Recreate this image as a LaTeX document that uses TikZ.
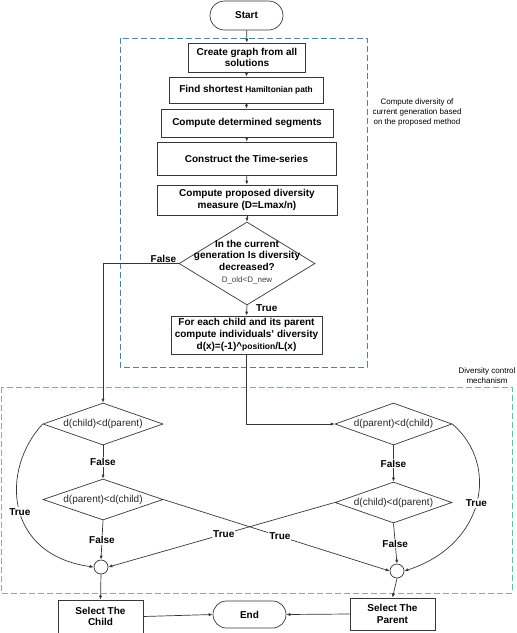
\documentclass[tikz,border=0pt]{standalone}
\usepackage{fontspec}
\setmainfont{Liberation Sans}
\usetikzlibrary{arrows.meta,shapes.geometric,shapes.misc}
\definecolor{ln}{RGB}{55,55,55}
\definecolor{bluedash}{RGB}{80,130,160}
\definecolor{greendash}{RGB}{100,190,160}
\begin{document}
\begin{tikzpicture}[x=1pt,y=-1pt,
 box/.style={draw=ln, line width=0.7pt, fill=white, inner sep=0pt, align=center, font=\fontsize{10}{11.7}\selectfont\bfseries},
 term/.style={rounded rectangle, draw=ln, line width=0.7pt, fill=white, inner sep=0pt, font=\fontsize{10}{12}\selectfont\bfseries},
 dia/.style={diamond, draw=ln, line width=0.7pt, inner sep=0pt},
 dtext/.style={font=\fontsize{10}{12}\selectfont, text=black!85},
 lab/.style={font=\fontsize{10}{12}\selectfont\bfseries, fill=white, inner sep=1pt},
 arr/.style={draw=ln, line width=0.7pt, -{Latex[length=4pt,width=3.2pt]}},
 cir/.style={circle, draw=ln, line width=0.7pt, minimum size=14pt, inner sep=0pt},
 note/.style={font=\fontsize{8}{10}\selectfont, align=center}
]
\useasboundingbox (0,0) rectangle (517,633);

% dashed frames
\draw[bluedash, line width=0.7pt, dash pattern=on 6pt off 3pt] (120,38) rectangle (367,367);
\draw[greendash, line width=0.7pt, dash pattern=on 6pt off 3pt] (1,387) rectangle (512,593);
\node[note] (n1) at (417,112) {Compute diversity of\\current generation based\\on the proposed method};
\node[note] (n2) at (487,375.5) {Diversity control\\mechanism};

% top chain
\node[term, minimum width=73pt, minimum height=29pt] (start) at (246.5,15.5) {Start};
\node[box, minimum width=117pt, minimum height=29pt] (b1) at (247,57.5) {Create graph from all\\solutions};
\node[box, minimum width=154pt, minimum height=26pt] (b2) at (246,90) {Find shortest {\fontsize{8.3}{10}\selectfont Hamiltonian path}};
\node[box, minimum width=172pt, minimum height=28pt] (b3) at (247,123) {Compute determined segments};
\node[box, minimum width=179pt, minimum height=33pt] (b4) at (246.5,158.5) {Construct the Time-series};
\node[box, minimum width=180pt, minimum height=30pt] (b5) at (247,200) {Compute proposed diversity\\measure (D=Lmax/n)};
\node[dia, minimum width=136pt, minimum height=83pt] (d0) at (247,263.5) {};
\node[align=center, font=\fontsize{10}{11.8}\selectfont\bfseries] (d0t) at (247,262) {In the current\\generation Is diversity\\decreased?\\{\mdseries\fontsize{8}{10}\selectfont\color{black!75}D\_old<D\_new}};
\node[box, minimum width=151pt, minimum height=38pt] (b6) at (246.5,335) {For each child and its parent\\compute individuals' diversity\\d(x)=(-1)\textasciicircum{\fontsize{8.5}{10}\selectfont position}/L(x)};

% lower part
\node[dia, minimum width=120pt, minimum height=42pt] (L1) at (103,424) {};
\node[dtext] (L1t) at (L1) {d(child)<d(parent)};
\node[dia, minimum width=120pt, minimum height=41pt] (L2) at (103,499.5) {};
\node[dtext] (L2t) at (L2) {d(parent)<d(child)};
\node[dia, minimum width=117pt, minimum height=42pt] (R1) at (393.5,424) {};
\node[dtext] (R1t) at (R1) {d(parent)<d(child)};
\node[dia, minimum width=117pt, minimum height=41pt] (R2) at (393.5,502.5) {};
\node[dtext] (R2t) at (R2) {d(child)<d(parent)};
\node[cir] (cL) at (101,567) {};
\node[cir] (cR) at (397,571) {};
\node[box, minimum width=85pt, minimum height=33pt] (sc) at (100.5,616.5) {Select The\\Child};
\node[box, minimum width=85pt, minimum height=32pt] (sp) at (392.5,614) {Select The\\Parent};
\node[term, minimum width=73pt, minimum height=27pt] (end) at (249.5,614.5) {End};

% connectors
\draw[arr] (start) -- (b1);
\draw[arr] (b1) -- (b2);
\draw[arr] (b2) -- (b3);
\draw[arr] (b3) -- (b4);
\draw[arr] (b4) -- (b5);
\draw[arr] (b5) -- (d0);
\draw[arr] (d0.south) -- node[pos=0.25, anchor=west, xshift=9pt, font=\fontsize{10}{12}\selectfont\bfseries, inner sep=0pt] {True} (b6.north);
\draw[arr] (d0.west) -- node[pos=0.2, above, font=\fontsize{10}{12}\selectfont\bfseries, inner sep=1pt] {False} (L1.north |- d0.west) -- (L1.north);
\draw[arr] (b6.south) |- (R1.west);

\draw[arr] (L1.south) -- node[lab] {False} (L2.north);
\draw[arr] (L2.south) -- node[lab] {False} (cL.north);
\draw[arr] (R1.south) -- node[lab] {False} (R2.north);
\draw[arr] (R2.south) -- node[lab] {False} (cR.north);

\draw[arr] (L1.west) .. controls (0,470) and (5,555) .. node[lab, pos=0.52] {True} (cL.west);
\draw[arr] (R1.east) .. controls (500,465) and (485,545) .. node[lab, pos=0.5] {True} (cR.east);
\draw[arr] (L2.east) -- node[lab, pos=0.515] {True} (cR.west);
\draw[arr] (R2.west) -- node[lab, pos=0.49] {True} (cL.east);

\draw[arr] (cL.south) -- (sc.north);
\draw[arr] (cR.south) -- (sp.north);
\draw[arr] (sc.east) -- (end.west);
\draw[arr] (sp.west) -- (end.east);
\end{tikzpicture}
\end{document}
